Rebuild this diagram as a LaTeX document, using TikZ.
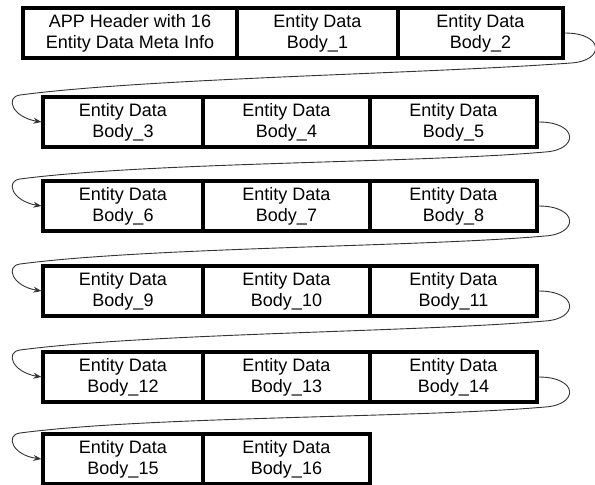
\documentclass[tikz,border=0pt]{standalone}
\usepackage{fontspec}
\setmainfont{Liberation Sans}
\usetikzlibrary{arrows.meta}
\begin{document}
\begin{tikzpicture}[x=1pt,y=-1pt,
 cell/.style={draw=black, line width=3.2pt, fill=white, minimum height=50pt,
   inner sep=0pt, align=center, font=\fontsize{18}{21}\selectfont},
 conn/.style={draw=black!80, line width=0.9pt, -{Stealth[length=8pt,width=6pt]}}]
\useasboundingbox (0,0) rectangle (595,485);
% row 1
\node[cell, minimum width=214pt] (h)  at (130,33)   {APP Header with 16\\Entity Data Meta Info};
\node[cell, minimum width=161pt] (b1) at (317.5,33) {Entity Data\\Body\_1};
\node[cell, minimum width=165pt] (b2) at (480.5,33) {Entity Data\\Body\_2};
% rows 2-6
\foreach \r/\y in {0/122,1/206,2/291,3/377,4/459}{
  \pgfmathtruncatemacro{\ia}{3+3*\r}
  \pgfmathtruncatemacro{\ib}{4+3*\r}
  \pgfmathtruncatemacro{\ic}{5+3*\r}
  \node[cell, minimum width=160pt] (b\ia) at (123,\y) {Entity Data\\Body\_\ia};
  \node[cell, minimum width=167pt] (b\ib) at (286.5,\y) {Entity Data\\Body\_\ib};
  \ifnum\ic<17
    \node[cell, minimum width=167pt] (b\ic) at (453.5,\y) {Entity Data\\Body\_\ic};
  \fi
}
% connectors
\foreach \s/\t/\R/\m/\T in {b2/b3/563/33/97, b5/b6/537/122/181, b8/b9/537/206/266, b11/b12/537/291/352, b14/b15/537/377/435}{
  \draw[conn] (\s.east) .. controls +(40,0) and ({\R+42},{\m+28}) .. ({\R+8},{\m+30})
     .. controls (420,{\m+41}) and (150,{\T-19}) .. (20,{\T-2})
     .. controls (5,\T) and (12,{\T+20}) .. (\t.west);
}
\end{tikzpicture}
\end{document}
